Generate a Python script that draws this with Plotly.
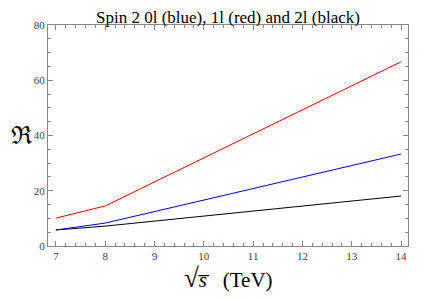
import plotly.graph_objects as go

energy = [7, 8, 14]
r_0l = [5.8, 8.3, 33.3]   # blue
r_1l = [10.1, 14.5, 66.7]  # red
r_2l = [5.8, 7.2, 18.1]    # black

SERIF = "Liberation Serif"

fig = go.Figure()
fig.add_trace(go.Scatter(x=energy, y=r_2l, mode="lines", line=dict(color="black", width=1)))
fig.add_trace(go.Scatter(x=energy, y=r_0l, mode="lines", line=dict(color="blue", width=1)))
fig.add_trace(go.Scatter(x=energy, y=r_1l, mode="lines", line=dict(color="red", width=1)))

axis_common = dict(
    showline=True, linecolor="#888888", linewidth=1, mirror="allticks",
    ticks="inside", tickcolor="#888888", ticklen=5, showgrid=False, zeroline=False,
    automargin=False,
    tickfont=dict(family=SERIF, size=11, color="#444444"),
)
fig.update_xaxes(
    range=[6.84, 14.14], tickmode="linear", tick0=7, dtick=1,
    minor=dict(ticks="inside", dtick=0.2, ticklen=3, tickcolor="#888888"),
    **axis_common,
)
fig.update_yaxes(
    range=[0, 80], tickmode="linear", tick0=0, dtick=20,
    minor=dict(ticks="inside", dtick=5, ticklen=3, tickcolor="#888888"),
    **axis_common,
)
fig.add_annotation(text="Spin 2 0l (blue), 1l (red) and 2l (black)", xref="paper", yref="paper",
                   x=0.5, y=1, xanchor="center", yanchor="bottom", yshift=-3, showarrow=False,
                   borderpad=0,
                   font=dict(family=SERIF, size=17, color="black"))
fig.add_annotation(text="<span style='font-size:27px'>√</span><i>s̅</i>&nbsp;&nbsp;&nbsp;(TeV)",
                   xref="paper", yref="paper",
                   x=0.5, y=0, xanchor="center", yanchor="top", yshift=-15, showarrow=False,
                   font=dict(family=SERIF, size=21, color="black"))
fig.add_annotation(text="ℜ", xref="paper", yref="paper",
                   x=0, y=0.5, xanchor="left", yanchor="middle", xshift=-39, showarrow=False,
                   font=dict(family="DejaVu Serif", size=25, color="black"))
fig.update_layout(
    width=425, height=299,
    margin=dict(l=40, r=25, t=17, b=61, autoexpand=False),
    paper_bgcolor="white", plot_bgcolor="white",
    showlegend=False,
)
fig.write_html("out.html")
